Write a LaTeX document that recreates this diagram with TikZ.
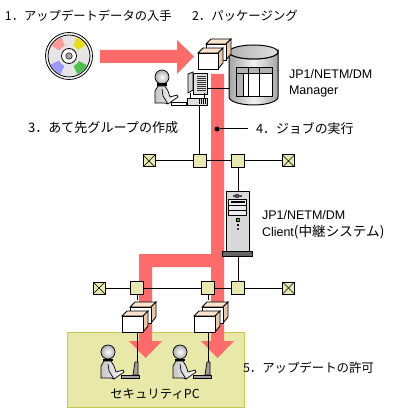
\documentclass[tikz,border=0pt]{standalone}
\usepackage{fontspec}
\setmainfont{Liberation Sans}
\newfontfamily\cjk{Noto Sans CJK JP}
\definecolor{redarr}{HTML}{FF6B6B}
\definecolor{swfill}{HTML}{E8E8B0}
\definecolor{zone}{HTML}{E8E8A8}
\definecolor{zoneedge}{HTML}{C8C850}
\definecolor{boxtop}{HTML}{FBE3CC}
\definecolor{boxside}{HTML}{E8C8A8}
\tikzset{
  sw/.style={draw=black,fill=swfill,line width=1pt,minimum size=13pt,inner sep=0pt,outer sep=0pt},
  xsw/.style={draw=black,fill=swfill,line width=1pt,minimum size=12pt,inner sep=0pt,outer sep=0pt,
    path picture={\draw[line width=0.5pt] (path picture bounding box.north west)--(path picture bounding box.south east)
      (path picture bounding box.north east)--(path picture bounding box.south west);}},
  net/.style={line width=1pt,draw=black},
  lbl/.style={anchor=west,inner sep=0pt,outer sep=0pt,font=\fontsize{#1}{14}\selectfont\cjk},
  lbl/.default=12.7,
  lat/.style={anchor=west,inner sep=0pt,outer sep=0pt,font=\fontsize{12.5}{13}\selectfont},
  flow/.style={fill=redarr,draw=none},
  pt/.style={inner sep=0pt,outer sep=0pt,minimum size=0pt}
}
\newcommand{\pkg}[3]{% x, y (front-box NW), width
  \begin{scope}[shift={(#1,#2)},line width=0.8pt]
    \fill[boxtop,draw=black] (0,0)--(5,-5)--(#3+5,-5)--(#3,0)--cycle;
    \fill[boxside,draw=black] (#3,0)--(#3+5,-5)--(#3+5,10)--(#3,16)--cycle;
    \fill[white,draw=black] (0,0) rectangle (#3,16);
  \end{scope}}
\newcommand{\manfig}[2]{%
  \begin{scope}[shift={(#1,#2)}]
    \shade[inner color=white,outer color=gray!65,draw=black,line width=0.7pt] (0,0) circle (7);
    \fill[black] (-5,6.5) rectangle (5,9);
    \shade[left color=gray!45,right color=white,draw=black,line width=0.7pt]
      (-7,26)--(-7,14)--(-4,9)--(3,9)--(6,14)--(8,20)--(15,18)--(16,20)--(6,27)--(3,26)--cycle;
    \draw[line width=0.7pt] (0,12)--(1,19)--(6,27);
  \end{scope}}
\newcommand{\laptop}[2]{%
  \begin{scope}[shift={(#1,#2)}]
    \fill[gray!75,draw=black,line width=0.7pt] (-15,0) rectangle (3,3);
    \fill[gray!75,draw=black,line width=0.7pt] (-3,0)--(-1,-13)--(2,-13)--(2,0)--cycle;
  \end{scope}}
\begin{document}
\begin{tikzpicture}[x=1pt,y=-1pt]
\useasboundingbox (0,0) rectangle (406,411);
\fill[white] (0,0) rectangle (406,411);
% zone
\node[draw=zoneedge,fill=zone,line width=0.8pt,minimum width=177pt,minimum height=75pt,inner sep=0pt] (zone) at (155.5,369.5) {};
% disc
\begin{scope}[shift={(69,56)},yscale=-1]
  \fill[white,draw=black,line width=0.8pt] (0,0) circle (23.5);
  \fill[gray!20,draw=black,line width=0.8pt] (0,0) circle (21);
  \fill[yellow!90!black] (33:11) arc (33:68:11) -- (68:20) arc (68:33:20) -- cycle;
  \fill[red!40] (112:11) arc (112:150:11) -- (150:20) arc (150:112:20) -- cycle;
  \fill[blue!40] (205:11) arc (205:245:11) -- (245:20) arc (245:205:20) -- cycle;
  \fill[green!65!black!70] (295:11) arc (295:333:11) -- (333:20) arc (333:295:20) -- cycle;
\end{scope}
\node[circle,draw=black,fill=white,line width=0.8pt,minimum size=15pt,inner sep=0pt] (hub) at (69,56) {};
\node[circle,draw=black,fill=gray!70,line width=0.5pt,minimum size=6.5pt,inner sep=0pt] (hole) at (69,56) {};
% flow arrows
\fill[flow] (100,50)--(177,50)--(177,40)--(194,56.5)--(177,74)--(177,63)--(100,63)--cycle;
\fill[flow] (211,74)--(224,74)--(224,341)--(234,341)--(217.5,358)--(201,341)--(211,341)--(211,267)--(152,267)--(152,341)--(162,341)--(145.5,358)--(129,341)--(139,341)--(139,254)--(211,254)--cycle;
% network nodes
\node[xsw] (x1) at (149,161) {};
\node[sw] (s1) at (199.5,161) {};
\node[sw] (s2) at (238,161) {};
\node[xsw] (x2) at (288.5,161) {};
\node[xsw] (x3) at (99,288) {};
\node[sw] (s3) at (137,288) {};
\node[sw] (s4) at (208,288) {};
\node[sw] (s5) at (238,288) {};
\node[xsw] (x4) at (288.5,288) {};
\draw[net] (x1)--(s1)--(s2)--(x2);
\draw[net] (x3)--(s3)--(s4)--(s5)--(x4);
% tower
\node[draw=black,fill=gray!30,line width=1pt,minimum width=23pt,minimum height=59pt,inner sep=0pt] (tower) at (237.5,221.5) {};
\node[draw=black,fill=gray!80!black,line width=1pt,minimum width=30pt,minimum height=5.5pt,inner sep=0pt] (tbase) at (237,254) {};
\draw[net] (s2)--(s2|-tower.north);
\draw[net] (s5|-tbase.south)--(s5);
\draw[line width=0.7pt,fill=gray!15] (228.5,199.5) rectangle (246.5,215.5);
\draw[line width=0.7pt] (228.5,205)--(246.5,205) (228.5,210.5)--(246.5,210.5);
\fill[black] (230.5,201.5) rectangle (244.5,203.5);
\fill[gray!60!black] (233,195.5) rectangle (241.5,197);
\fill[gray!60!black] (235,194.5) rectangle (239,198);
\fill[green!80!black,draw=black,line width=0.4pt] (236,218.5) rectangle (239,221.5);
\fill[black] (236.5,224) rectangle (238.5,226);
\fill[gray!50!black] (236.5,227.5) rectangle (238.5,229.5);
% database
\shade[left color=gray!70,right color=gray!70,middle color=gray!10,draw=black,line width=1pt]
  (229,52)--(229,97) arc (180:0:24.5 and 8) --(278,52) arc (0:180:24.5 and 7)--cycle;
\shade[left color=gray!60,right color=gray!25,draw=black,line width=1pt] (253.5,52) ellipse (24.5 and 7);
\fill[white,draw=black,line width=0.7pt] (236,67) rectangle (272,96);
\fill[gray!60,draw=black,line width=0.7pt] (236,67) rectangle (272,73);
\fill[gray!60,draw=black,line width=0.7pt] (236,73) rectangle (243,96);
\draw[line width=0.7pt] (248,67)--(248,96) (259,67)--(259,96);
\coordinate (dbleft) at (229,89);
% pc
\node[draw=black,fill=gray!25,line width=0.8pt,minimum width=20pt,minimum height=7pt,inner sep=0pt] (pcbase) at (197,101.5) {};
\draw[line width=0.8pt,fill=gray!35] (188,74)--(193,72)--(193,90)--(188,93)--cycle;
\fill[gray!25,draw=black,line width=0.8pt] (193,73) rectangle (207,94);
\node[pt] (mon) at (207,89) {};
\foreach \yy in {76,78,...,90}{\draw[line width=0.5pt,gray!40!black] (197,\yy)--(206,\yy);}
\draw[line width=0.8pt] (190,93) -- (190,98) (204,93)--(204,98);
\foreach \xx in {199,201,203,205}{\draw[line width=0.5pt] (\xx,99)--(\xx,104);}
\draw[net] (mon)--(dbleft);
\draw[net] (s1|-pcbase.south) -- (s1);
% operator at pc
\manfig{162}{77}
\fill[white,draw=black,line width=0.7pt] (171,102) rectangle (186,105);
% packages top
\pkg{206}{44}{20}
\pkg{198}{53}{20}
% flow dot + label
\node[circle,fill=black,minimum size=5pt,inner sep=0pt] (dot) at (217,129) {};
\coordinate (dotend) at (248,129);
\draw[net] (dot)--(dotend);
% lower groups
\coordinate (lap1) at (137,375);
\coordinate (lap2) at (208,375);
\pkg{130}{307}{21}
\pkg{122}{316}{21}
\pkg{202}{307}{21}
\pkg{194}{316}{21}
\draw[net] (s3)--(137,300);
\draw[net] (s4)--(208,300);
\draw[net] (137,333)--(lap1);
\draw[net] (208,333)--(lap2);
\laptop{136}{375}
\laptop{208}{375}
\manfig{108}{352}
\manfig{180}{352}
% labels
\node[lbl=12.3] (t1) at (5,15.5) {1．アップデートデータの入手};
\node[lbl=12.4] (t2) at (192,15.5) {2．パッケージング};
\node[lat] (t3) at (289,74.5) {JP1/NETM/DM};
\node[lat] (t4) at (289,92) {Manager};
\node[lbl=13.1] (t5) at (28,128) {3．あて先グループの作成};
\node[lbl=12.9] (t6) at (256,129) {4．ジョブの実行};
\node[lat] (t7) at (262,215) {JP1/NETM/DM};
\node[lat] (t8) at (262,232) {Client{\fontsize{13.6}{14}\selectfont\cjk (中継システム)}};
\node[lbl=12.4] (t9) at (243,368) {5．アップデートの許可};
\node[lbl=12.4,anchor=center] (t10) at (155,394) {セキュリティPC};
\end{tikzpicture}
\end{document}
